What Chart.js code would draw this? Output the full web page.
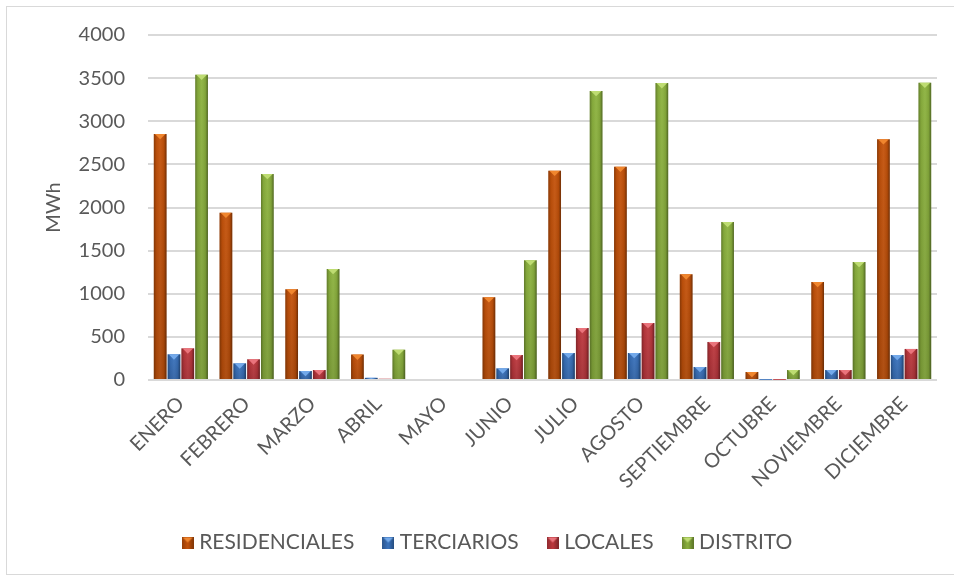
<!DOCTYPE html>
<html>
<head>
<meta charset="utf-8">
<title>Consumo mensual</title>
<script src="https://cdn.jsdelivr.net/npm/chart.js@4.4.0/dist/chart.umd.min.js"></script>
<style>
  html, body { margin: 0; padding: 0; background: #ffffff; }
  canvas { display: block; }
</style>
</head>
<body>
<canvas id="graficoConsumo" width="954" height="581"></canvas>
<script>
// Datos mensuales en MWh
const meses = ['ENERO', 'FEBRERO', 'MARZO', 'ABRIL', 'MAYO', 'JUNIO', 'JULIO',
  'AGOSTO', 'SEPTIEMBRE', 'OCTUBRE', 'NOVIEMBRE', 'DICIEMBRE'];
const residenciales = [2852, 1940, 1051, 295, 0, 959, 2427, 2473, 1225, 93, 1136, 2791];
const terciarios = [298, 193, 104, 25, 0, 135, 313, 313, 151, 2, 116, 290];
const locales = [367, 240, 116, 15, 0, 290, 603, 661, 441, 2, 116, 360];
const distrito = [3540, 2388, 1287, 351, 0, 1388, 3351, 3443, 1832, 116, 1368, 3447];
const ticksY = [0, 500, 1000, 1500, 2000, 2500, 3000, 3500, 4000];

const FUENTE = 'Lato, "Open Sans", sans-serif';
const GRIS_TEXTO = '#595959';

// color base + color claro del bisel superior
const series = [
  { label: 'RESIDENCIALES', data: residenciales, color: '#C4520A', bisel: '#F0862E' },
  { label: 'TERCIARIOS', data: terciarios, color: '#3A73BE', bisel: '#73A9EA' },
  { label: 'LOCALES', data: locales, color: '#BE383E', bisel: '#EA747C' },
  { label: 'DISTRITO', data: distrito, color: '#8CB23E', bisel: '#BEDC72' }
];

// marcador de la leyenda con el mismo bisel que las barras
function marcador(color, bisel) {
  const c = document.createElement('canvas');
  c.width = 12; c.height = 12;
  const g = c.getContext('2d');
  g.fillStyle = color;
  g.fillRect(0, 0, 12, 12);
  const lg = g.createLinearGradient(0, 0, 12, 0);
  lg.addColorStop(0, 'rgba(0,0,0,0.25)');
  lg.addColorStop(0.5, 'rgba(0,0,0,0)');
  lg.addColorStop(1, 'rgba(0,0,0,0.35)');
  g.fillStyle = lg;
  g.fillRect(0, 0, 12, 12);
  g.fillStyle = bisel;
  g.beginPath();
  g.moveTo(1, 1); g.lineTo(11, 1); g.lineTo(6, 6); g.closePath();
  g.fill();
  return c;
}

// sombreado lateral y triangulo claro arriba de cada barra
const biselBarras = {
  id: 'biselBarras',
  afterDatasetsDraw(chart) {
    const ctx = chart.ctx;
    chart.data.datasets.forEach((ds, i) => {
      const meta = chart.getDatasetMeta(i);
      meta.data.forEach(bar => {
        const { x, y, base, width } = bar.getProps(['x', 'y', 'base', 'width'], true);
        const h = base - y;
        if (h < 0.5) return;
        const l = x - width / 2, r = x + width / 2;
        ctx.save();
        const g = ctx.createLinearGradient(l, 0, r, 0);
        g.addColorStop(0, 'rgba(0,0,0,0.30)');
        g.addColorStop(0.2, 'rgba(0,0,0,0.06)');
        g.addColorStop(0.5, 'rgba(255,255,255,0.05)');
        g.addColorStop(0.8, 'rgba(0,0,0,0.08)');
        g.addColorStop(1, 'rgba(0,0,0,0.42)');
        ctx.fillStyle = g;
        ctx.fillRect(l, y, width, h);
        const v = ctx.createLinearGradient(0, y, 0, base);
        v.addColorStop(0, 'rgba(0,0,0,0)');
        v.addColorStop(1, 'rgba(0,0,0,0.12)');
        ctx.fillStyle = v;
        ctx.fillRect(l, y, width, h);
        const t = Math.min(width * 0.42, h);
        ctx.fillStyle = ds.bisel;
        ctx.beginPath();
        ctx.moveTo(l + 1, y);
        ctx.lineTo(r - 1, y);
        ctx.lineTo(x, y + t);
        ctx.closePath();
        ctx.fill();
        ctx.restore();
      });
    });
  }
};

// marco gris claro alrededor del grafico
const marco = {
  id: 'marco',
  beforeDraw(chart) {
    const ctx = chart.ctx;
    ctx.save();
    ctx.strokeStyle = '#D9D9D9';
    ctx.lineWidth = 1;
    ctx.strokeRect(6.5, 6.5, chart.width, chart.height - 13);
    ctx.restore();
  }
};

const ctxC = document.getElementById('graficoConsumo').getContext('2d');
new Chart(ctxC, {
  type: 'bar',
  data: {
    labels: meses,
    datasets: series.map(s => ({
      label: s.label,
      data: s.data,
      backgroundColor: s.color,
      borderWidth: 0,
      bisel: s.bisel,
      categoryPercentage: 0.84,
      barPercentage: 0.92
    }))
  },
  options: {
    responsive: false,
    animation: false,
    layout: { padding: { left: 42, top: 35, right: 17, bottom: 18 } },
    scales: {
      x: {
        grid: { display: false },
        border: { display: false },
        ticks: {
          autoSkip: false,
          maxRotation: 45,
          minRotation: 45,
          padding: 4,
          color: GRIS_TEXTO,
          font: { family: FUENTE, size: 20 }
        },
        afterFit(s) { s.height = 119; }
      },
      y: {
        min: 0,
        max: 4000,
        afterBuildTicks(s) { s.ticks = ticksY.map(v => ({ value: v })); },
        grid: { color: '#D9D9D9', lineWidth: 2, drawTicks: false },
        border: { display: false },
        ticks: {
          padding: 23,
          color: GRIS_TEXTO,
          font: { family: FUENTE, size: 20 },
          callback: v => String(v)
        },
        title: {
          display: true,
          text: 'MWh',
          color: GRIS_TEXTO,
          font: { family: FUENTE, size: 20 },
          padding: { top: 0, bottom: 0 }
        },
        afterFit(s) { s.width = 106; }
      }
    },
    plugins: {
      legend: {
        position: 'bottom',
        labels: {
          usePointStyle: true,
          pointStyleWidth: 2,
          boxWidth: 12,
          boxHeight: 12,
          padding: 33,
          color: GRIS_TEXTO,
          font: { family: FUENTE, size: 21 },
          generateLabels(chart) {
            return chart.data.datasets.map((ds, i) => ({
              text: ds.label,
              fillStyle: ds.backgroundColor,
              strokeStyle: ds.backgroundColor,
              lineWidth: 0,
              fontColor: GRIS_TEXTO,
              pointStyle: marcador(ds.backgroundColor, ds.bisel),
              hidden: false,
              datasetIndex: i
            }));
          }
        }
      },
      tooltip: { enabled: false }
    }
  },
  plugins: [marco, biselBarras]
});
</script>
</body>
</html>
